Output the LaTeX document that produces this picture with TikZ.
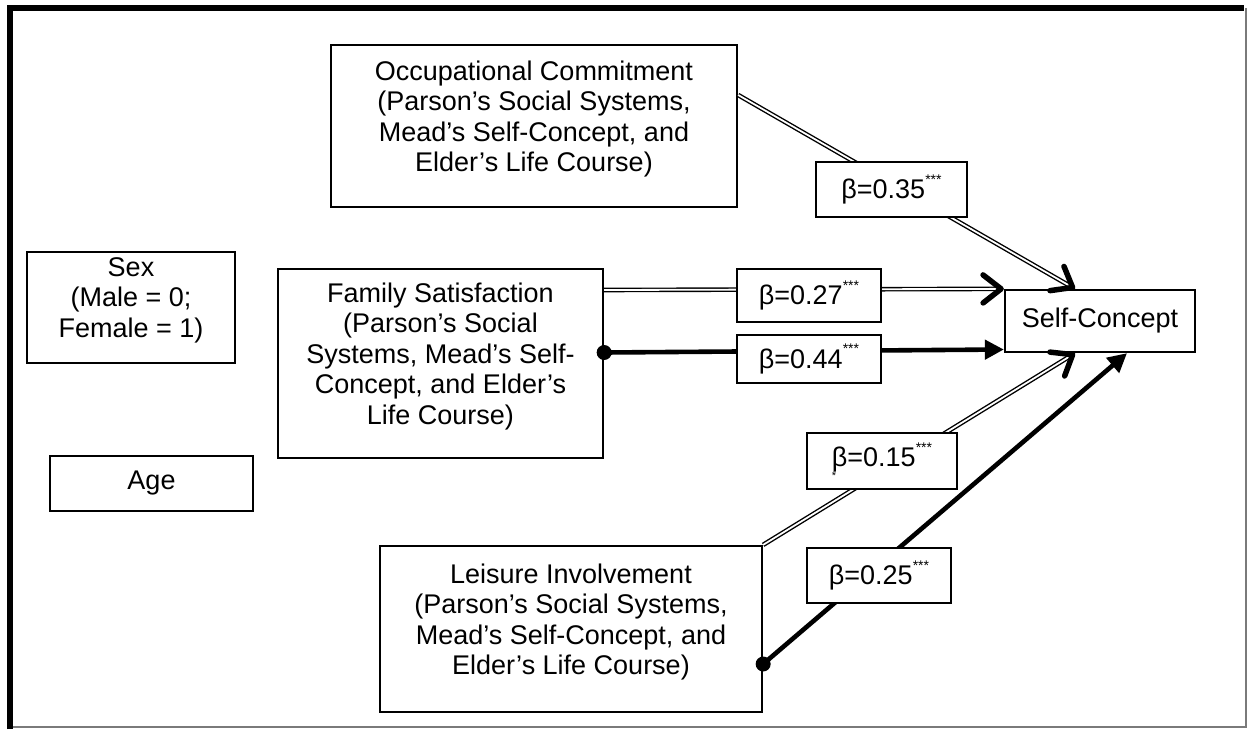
\documentclass[tikz,border=0pt]{standalone}
\usepackage{fontspec}
\setmainfont{Liberation Sans}
\usetikzlibrary{arrows.meta,decorations.markings}
\definecolor{ink}{HTML}{000000}
\definecolor{rim}{HTML}{7A7A7A}
\newcommand{\bodyfont}{\fontsize{27pt}{30.5pt}\selectfont}
\newcommand{\stars}{\raisebox{14.5pt}{\fontsize{14pt}{14pt}\selectfont ***}}
\newcommand{\coef}[1]{β=#1\stars}
\tikzset{
  box/.style  ={draw=ink, line width=2.3pt, fill=white, align=center, inner sep=0pt, font=\bodyfont},
  tall/.style ={box, text depth=20pt},
  cbox/.style ={draw=ink, line width=1.4pt, fill=white, inner sep=0pt, font=\bodyfont},
  dbl/.style  ={draw=ink, line width=1.4pt, double=white, double distance=1.8pt, shorten >=3pt},
  barb/.style ={decoration={markings, mark=at position 1 with {\arrow{Straight Barb[length=18pt,width=28pt,line width=5.5pt,round]}}}, postaction={decorate}},
  thk/.style  ={draw=ink, line width=4.6pt, -{Triangle[length=19pt,width=19pt]}},
  dot/.style  ={fill=ink},
}

\begin{document}
\begin{tikzpicture}[x=1pt,y=-1pt]
  \useasboundingbox (0,0) rectangle (1247,729);
  % frame
  \draw[ink, line width=6pt] (10,729) -- (10,8) -- (1244,8);
  \draw[rim, line width=1.5pt] (1246,8) -- (1246,727) -- (13,727);

  % variables
  \node[tall, minimum width=406pt, minimum height=162pt] (occ) at (534,126)
    {Occupational Commitment\\(Parson’s Social Systems,\\Mead’s Self-Concept, and\\Elder’s Life Course)};
  \node[tall, minimum width=208pt, minimum height=111pt] (sex) at (131,307.5)
    {Sex\\(Male = 0;\\Female = 1)};
  \node[tall, minimum width=325pt, minimum height=189pt] (fam) at (440.5,363.5)
    {Family Satisfaction\\(Parson’s Social\\Systems, Mead’s Self-\\Concept, and Elder’s\\Life Course)};
  \node[box, minimum width=203pt, minimum height=55pt] (age) at (151.5,483.5) {Age};
  \node[tall, minimum width=382pt, minimum height=166pt] (lei) at (571,629)
    {Leisure Involvement\\(Parson’s Social Systems,\\Mead’s Self-Concept, and\\Elder’s Life Course)};
  \node[box, minimum width=190pt, minimum height=62pt] (self) at (1100,321) {Self-Concept};

  % paths
  \coordinate (occout) at ([yshift=31pt]occ.east);
  \coordinate (famtop) at ([yshift=73.5pt]fam.east);
  \coordinate (famdot) at ([yshift=11pt]fam.east);
  \coordinate (leidot) at ([yshift=-35pt]lei.east);
  \coordinate (in1) at ([xshift=-25pt]self.north);
  \coordinate (in2) at ([yshift=-28.5pt]self.west);
  \coordinate (in3) at ([xshift=-25pt]self.south);
  \coordinate (in4) at ([xshift=27pt]self.south);

  \draw[dbl] (occout) -- (in1);
  \path[barb] (occout) -- (in1);
  \draw[dbl] (famtop) -- (self.north west);
  \path[barb] (famtop) -- (self.north west);
  \draw[thk] (famdot) -- (in2);
  \draw[dbl] (lei.north east) -- (in3);
  \path[barb] (lei.north east) -- (in3);
  \draw[thk] (leidot) -- (in4);
  \fill[dot] (famdot) circle (7.5pt);
  \fill[dot] (leidot) circle (7.5pt);

  % coefficients
  \node[cbox, minimum width=151pt, minimum height=55pt] (b35) at (891.5,189.5) {\coef{0.35}};
  \node[cbox, minimum width=144pt, minimum height=53pt] (b27) at (809,295.5) {\coef{0.27}};
  \node[cbox, minimum width=144pt, minimum height=48pt] (b44) at (809,359) {\coef{0.44}};
  \node[cbox, minimum width=150pt, minimum height=56pt] (b15) at (882,461)
    {\rlap{\raisebox{-13pt}{\fontsize{11pt}{11pt}\selectfont *}}\coef{0.15}};
  \node[cbox, minimum width=144pt, minimum height=55pt] (b25) at (879,575.5) {\coef{0.25}};
\end{tikzpicture}
\end{document}
